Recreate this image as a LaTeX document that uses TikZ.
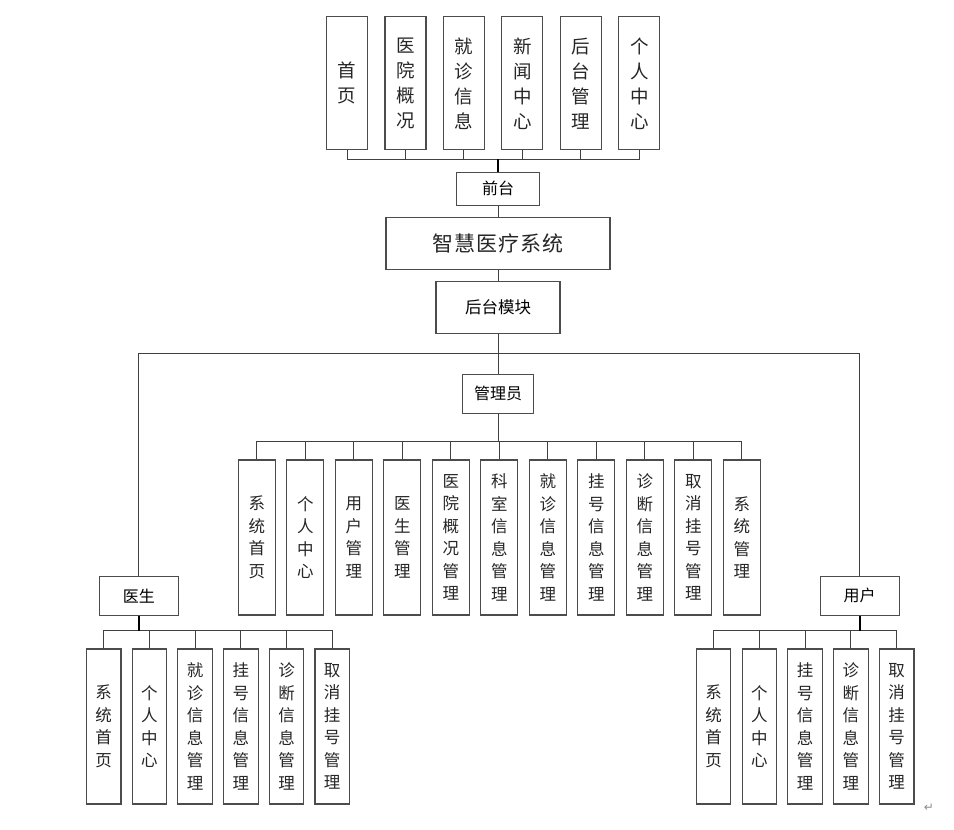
\documentclass[tikz,border=0pt]{standalone}
\usepackage{fontspec}
\newfontfamily\cjk{Noto Sans CJK SC}
\newfontfamily\dejavu{DejaVu Sans}
\begin{document}
\begin{tikzpicture}[x=1pt,y=-1pt,
  box/.style={draw=black!70, line width=1.1pt, fill=white, inner sep=0pt, align=center, text=black!85},
  tallbox/.style={box, minimum width=41pt, minimum height=133pt, font=\cjk\fontsize{18.5}{25}\selectfont},
  adminbox/.style={box, minimum width=37pt, minimum height=155pt, font=\cjk\fontsize{16.5}{22.5}\selectfont},
  leafbox/.style={box, minimum width=34.5pt, minimum height=155pt, font=\cjk\fontsize{16.5}{22.5}\selectfont},
  hbox/.style={box, text=black, font=\cjk\fontsize{16}{18}\selectfont},
  wire/.style={draw=black!75, line width=1pt},
  trunk/.style={draw=black, line width=1.6pt}]
\useasboundingbox (0,0) rectangle (954,830);

% top row
\foreach \t [count=\i] in {{首\\页},{医\\院\\概\\况},{就\\诊\\信\\息},{新\\闻\\中\\心},{后\\台\\管\\理},{个\\人\\中\\心}}
  \node[tallbox] (t\i) at ({347+58.45*(\i-1)},83.3) {\t};

\node[hbox, minimum width=83pt, minimum height=33pt] (qt) at (498,188.7) {前台};
\node[box, minimum width=224pt, minimum height=52pt, font=\cjk\fontsize{21}{24}\selectfont] (sys) at (498,243.3) {智\kern1pt 慧\kern1pt 医\kern1pt 疗\kern1pt 系\kern1pt 统};
\node[hbox, minimum width=124pt, minimum height=51.6pt, font=\cjk\fontsize{16.5}{18}\selectfont] (ht) at (498,307.5) {后台模块};
\node[hbox, minimum width=71pt, minimum height=39pt] (gly) at (498,393.8) {管理员};
\node[hbox, minimum width=79pt, minimum height=39.3pt] (ys) at (138.8,595.7) {医生};
\node[hbox, minimum width=79pt, minimum height=39.3pt] (yh) at (859.7,595.7) {用户};

% admin children
\foreach \t [count=\i from 0] in {{系\\统\\首\\页},{个\\人\\中\\心},{用\\户\\管\\理},{医\\生\\管\\理},{医\\院\\概\\况\\管\\理},{科\\室\\信\\息\\管\\理},{就\\诊\\信\\息\\管\\理},{挂\\号\\信\\息\\管\\理},{诊\\断\\信\\息\\管\\理},{取\\消\\挂\\号\\管\\理},{系\\统\\管\\理}}
  \node[adminbox] (a\i) at ({256.8+48.5*\i},537.5) {\t};

% doctor children
\foreach \t [count=\i from 0] in {{系\\统\\首\\页},{个\\人\\中\\心},{就\\诊\\信\\息\\管\\理},{挂\\号\\信\\息\\管\\理},{诊\\断\\信\\息\\管\\理},{取\\消\\挂\\号\\管\\理}}
  \node[leafbox] (d\i) at ({103.7+45.7*\i},726.5) {\t};

% user children
\foreach \t [count=\i from 0] in {{系\\统\\首\\页},{个\\人\\中\\心},{挂\\号\\信\\息\\管\\理},{诊\\断\\信\\息\\管\\理},{取\\消\\挂\\号\\管\\理}}
  \node[leafbox] (u\i) at ({713.5+45.8*\i},726.5) {\t};

% connectors
\foreach \i in {1,...,6}
  \draw[wire] (t\i.south) -- ++(0,9.3) -| (qt.north);
\draw[trunk] (qt.north) -- ++(0,-13);
\draw[wire] (qt.south) -- (sys.north);
\draw[wire] (sys.south) -- (ht.north);
\draw[wire] (ht.south) -- (gly.north);
\draw[wire] (ht.south) -- ++(0,20) -| (ys.north);
\draw[wire] (ht.south) -- ++(0,20) -| (yh.north);
\foreach \i in {0,...,10}
  \draw[wire] (gly.south) -- ++(0,27.4) -| (a\i.north);
\foreach \i in {0,...,5}
  \draw[wire] (ys.south) -- ++(0,14.7) -| (d\i.north);
\draw[trunk] (ys.south) -- ++(0,14.7);
\foreach \i in {0,...,4}
  \draw[wire] (yh.south) -- ++(0,14.7) -| (u\i.north);
\draw[trunk] (yh.south) -- ++(0,14.7);

\node[text=black!45, font=\dejavu\fontsize{12}{12}\selectfont] (pm) at (929,808) {↵};
\end{tikzpicture}
\end{document}
